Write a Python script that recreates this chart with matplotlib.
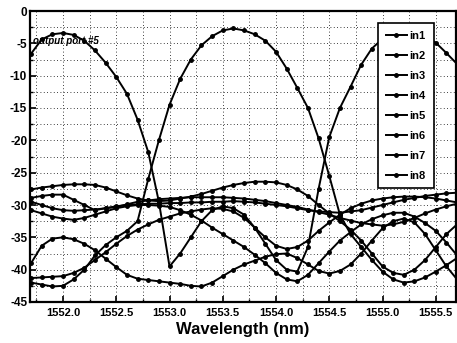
import matplotlib
matplotlib.use('Agg')
import matplotlib.pyplot as plt
from matplotlib.ticker import MultipleLocator

plt.rcParams['font.family'] = ['Liberation Sans', 'DejaVu Sans']
plt.rcParams['axes.unicode_minus'] = False

wavelength = [1551.7, 1551.8, 1551.9, 1552.0, 1552.1, 1552.2, 1552.3, 1552.4, 1552.5, 1552.6,
              1552.7, 1552.8, 1552.9, 1553.0, 1553.1, 1553.2, 1553.3, 1553.4, 1553.5, 1553.6,
              1553.7, 1553.8, 1553.9, 1554.0, 1554.1, 1554.2, 1554.3, 1554.4, 1554.5, 1554.6,
              1554.7, 1554.8, 1554.9, 1555.0, 1555.1, 1555.2, 1555.3, 1555.4, 1555.5, 1555.6,
              1555.7]

in1 = [-27.6, -27.3, -27.1, -26.9, -26.8, -26.8, -26.9, -27.3, -27.9, -28.5,
       -29.0, -29.3, -29.4, -29.3, -29.0, -28.7, -28.3, -27.8, -27.3, -26.9,
       -26.6, -26.4, -26.4, -26.5, -26.9, -27.6, -28.6, -30.0, -31.3, -32.5,
       -33.8, -35.5, -37.5, -39.5, -40.5, -40.8, -40.0, -38.5, -36.5, -34.5,
       -33.0]
in2 = [-28.9, -28.6, -28.4, -28.4, -29.2, -30.0, -30.8, -30.5, -30.2, -30.0,
       -29.9, -29.8, -29.8, -29.7, -29.7, -29.6, -29.6, -29.5, -29.5, -29.4,
       -29.5, -29.6, -29.8, -30.0, -30.2, -30.5, -30.8, -31.0, -31.1, -31.2,
       -31.0, -30.8, -30.4, -30.0, -29.6, -29.2, -28.9, -28.6, -28.4, -28.2,
       -28.1]
in3 = [-29.5, -30.0, -30.5, -30.8, -30.9, -30.8, -30.7, -30.5, -30.3, -29.9,
       -29.5, -29.3, -29.1, -29.0, -28.9, -28.8, -28.8, -28.8, -28.8, -28.9,
       -29.0, -29.2, -29.4, -29.7, -30.0, -30.3, -30.7, -31.1, -31.5, -32.0,
       -32.4, -32.8, -33.0, -33.2, -33.0, -32.6, -32.0, -31.3, -30.7, -30.2,
       -29.8]
in4 = [-6.6, -4.4, -3.6, -3.4, -3.7, -4.6, -6.1, -8.0, -10.2, -12.8,
       -16.8, -21.8, -29.5, -39.5, -37.5, -35.0, -32.5, -30.8, -30.2, -30.5,
       -31.5, -33.5, -36.0, -38.5, -40.0, -40.3, -36.5, -27.5, -19.5, -15.0,
       -11.7, -8.3, -5.8, -4.3, -3.5, -3.3, -3.4, -3.9, -4.9, -6.5,
       -8.2]
in5 = [-42.0, -42.3, -42.6, -42.5, -41.5, -40.0, -37.8, -36.2, -35.0, -34.0,
       -32.5, -26.0, -20.0, -14.5, -10.5, -7.5, -5.3, -3.9, -3.0, -2.7,
       -3.0, -3.6, -4.6, -6.3, -8.9, -11.9, -15.0, -19.7, -25.5, -31.5,
       -34.5, -36.5, -38.5, -40.3, -41.5, -42.0, -41.8, -41.2, -40.3, -39.3,
       -38.2]
in6 = [-30.8, -31.3, -31.8, -32.1, -32.3, -32.0, -31.5, -31.0, -30.5, -30.2,
       -30.0, -30.0, -30.1, -30.3, -30.8, -31.5, -32.4, -33.5, -34.5, -35.5,
       -36.5, -37.7, -39.0, -40.5, -41.5, -41.8, -40.8, -39.0, -37.2, -35.5,
       -34.2, -33.0, -32.2, -31.6, -31.2, -31.2, -31.8, -32.8, -34.0, -35.8,
       -37.8]
in7 = [-39.0, -36.3, -35.2, -35.0, -35.3, -36.0, -37.0, -38.3, -39.6, -40.8,
       -41.4, -41.6, -41.8, -42.0, -42.2, -42.5, -42.6, -42.0, -41.0, -40.0,
       -39.2, -38.6, -38.0, -37.6, -37.5, -38.2, -39.2, -40.2, -40.6, -40.2,
       -39.2, -37.5, -35.5, -33.6, -32.5, -32.1, -32.7, -34.5, -37.0, -39.5,
       -41.5]
in8 = [-41.3, -41.2, -41.1, -41.0, -40.5, -39.7, -38.5, -37.3, -36.0, -34.8,
       -33.8, -33.0, -32.3, -31.8, -31.3, -31.0, -30.7, -30.5, -30.6, -31.0,
       -32.0, -33.5, -35.0, -36.3, -36.8, -36.5, -35.5, -34.0, -32.7, -31.5,
       -30.5, -29.8, -29.3, -29.0, -28.8, -28.7, -28.7, -28.8, -29.0, -29.3,
       -29.6]

series = [in1, in2, in3, in4, in5, in6, in7, in8]
labels = ['in1', 'in2', 'in3', 'in4', 'in5', 'in6', 'in7', 'in8']
xticks = [1552.0, 1552.5, 1553.0, 1553.5, 1554.0, 1554.5, 1555.0, 1555.5]
yticks = [0, -5, -10, -15, -20, -25, -30, -35, -40, -45]

fig = plt.figure(figsize=(4.57, 3.43), dpi=100)
ax = fig.add_axes([30 / 457, 1 - 302 / 343, 426 / 457, 291 / 343])

for vals, lab in zip(series, labels):
    ax.plot(wavelength, vals, color='black', linewidth=1.4, marker='o',
            markersize=2.5, label=lab)

ax.set_xlim(1551.69, 1555.69)
ax.set_ylim(-45, 0)
ax.set_xticks(xticks)
ax.set_xticklabels(['%.1f' % t for t in xticks], fontsize=8, fontweight='bold')
ax.set_yticks(yticks)
ax.set_yticklabels([str(t) for t in yticks], fontsize=8.5, fontweight='bold')
ax.xaxis.set_minor_locator(MultipleLocator(0.25))
ax.yaxis.set_minor_locator(MultipleLocator(2.5))
ax.tick_params(which='both', direction='in', top=False, right=False)
ax.tick_params(axis='x', pad=4)
ax.tick_params(axis='y', pad=2)
ax.tick_params(which='major', length=4, width=1.2)
ax.tick_params(which='minor', length=2, width=1)
ax.grid(True, which='both', color='black', linestyle=(0, (1, 3)), linewidth=0.6)
for sp in ax.spines.values():
    sp.set_linewidth(1.6)

ax.set_xlabel('Wavelength (nm)', fontsize=12, fontweight='bold', labelpad=3)
ax.text(1551.72, -4.6, 'output port #5', fontsize=7, fontweight='bold',
        style='italic', va='center', ha='left')

leg = ax.legend(loc='upper left', bbox_to_anchor=(0.817, 0.959), borderaxespad=0,
                numpoints=1, handlelength=1.9, handletextpad=0.25, labelspacing=0.9,
                borderpad=0.7, fancybox=False, framealpha=1, edgecolor='black',
                prop={'weight': 'bold', 'size': 8})
leg.get_frame().set_linewidth(1.2)

fig.savefig('out.png', dpi=100)
